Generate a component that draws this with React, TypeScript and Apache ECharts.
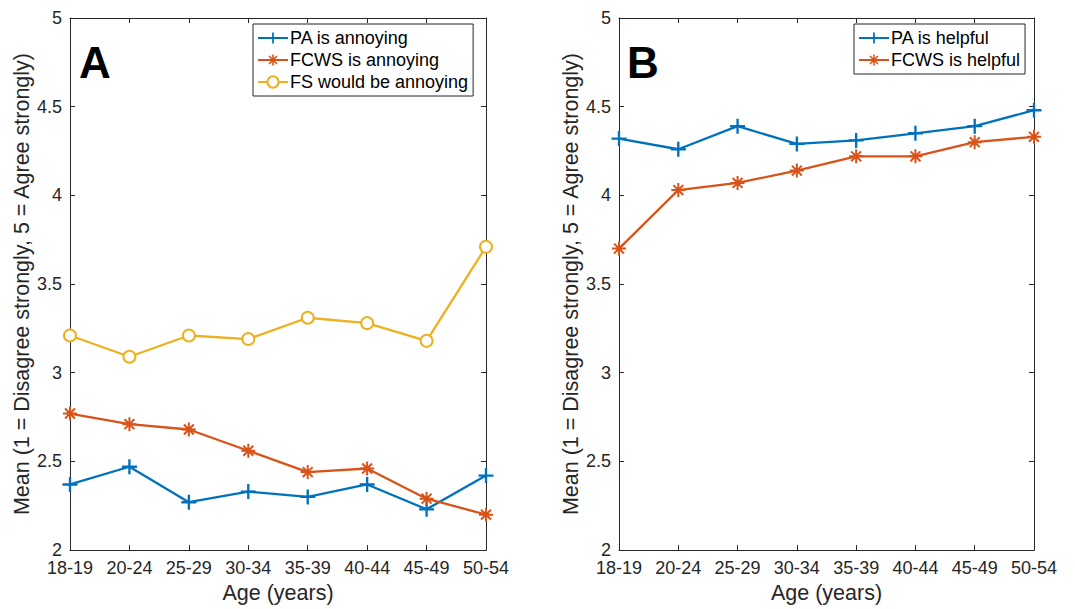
import React, { useEffect, useRef } from "react";
import * as echarts from "echarts";

const ageGroups = ["18-19", "20-24", "25-29", "30-34", "35-39", "40-44", "45-49", "50-54"];
const paAnnoying = [2.37, 2.47, 2.27, 2.33, 2.3, 2.37, 2.23, 2.42];
const fcwsAnnoying = [2.77, 2.71, 2.68, 2.56, 2.44, 2.46, 2.29, 2.2];
const fsWouldBeAnnoying = [3.21, 3.09, 3.21, 3.19, 3.31, 3.28, 3.18, 3.71];
const paHelpful = [4.32, 4.26, 4.39, 4.29, 4.31, 4.35, 4.39, 4.48];
const fcwsHelpful = [3.7, 4.03, 4.07, 4.14, 4.22, 4.22, 4.3, 4.33];
const yMin = 2;
const yMax = 5;
const yStep = 0.5;

const BLUE = "#0072BD";
const ORANGE = "#D95319";
const YELLOW = "#EDB120";
const FONT = "Liberation Sans";
const AXIS = "#262626";

const plusPath =
  "path://M-1.1,-7 L1.1,-7 L1.1,-1.1 L7,-1.1 L7,1.1 L1.1,1.1 L1.1,7 L-1.1,7 L-1.1,1.1 L-7,1.1 L-7,-1.1 L-1.1,-1.1 Z";
const starPath =
  "path://M7,1 L7,-1 L-7,-1 L-7,1 Z M-1,7 L1,7 L1,-7 L-1,-7 Z " +
  "M4.24,5.66 L5.66,4.24 L-4.24,-5.66 L-5.66,-4.24 Z " +
  "M5.66,-4.24 L4.24,-5.66 L-5.66,4.24 L-4.24,5.66 Z";

export default function App() {
  const ref = useRef<HTMLDivElement>(null);
  useEffect(() => {
    if (!ref.current) return;
    const chart = echarts.init(ref.current, undefined, { renderer: "svg" });
    const grids = [
      { left: 70, top: 18, width: 416, height: 534 },
      { left: 619, top: 18, width: 415, height: 534 },
    ];
    const xBottom = (gi: number) => ({
      type: "category",
      gridIndex: gi,
      data: ageGroups,
      boundaryGap: false,
      position: "bottom",
      axisLine: { lineStyle: { color: AXIS, width: 1 } },
      axisTick: { inside: true, length: 5, lineStyle: { color: AXIS } },
      axisLabel: { interval: 0, fontSize: 18, color: AXIS, fontFamily: FONT, margin: 9 },
      name: "Age (years)",
      nameLocation: "middle",
      nameGap: 31,
      nameTextStyle: { fontSize: 21.5, color: AXIS, fontFamily: FONT },
      splitLine: { show: false },
    });
    const xTop = (gi: number) => ({
      type: "category",
      gridIndex: gi,
      data: ageGroups,
      boundaryGap: false,
      position: "top",
      axisLine: { lineStyle: { color: AXIS, width: 1 } },
      axisTick: { inside: true, length: 5, lineStyle: { color: AXIS } },
      axisLabel: { show: false },
      splitLine: { show: false },
    });
    const yLeft = (gi: number) => ({
      type: "value",
      gridIndex: gi,
      min: yMin,
      max: yMax,
      interval: yStep,
      position: "left",
      axisLine: { show: true, lineStyle: { color: AXIS, width: 1 } },
      axisTick: { show: true, inside: true, length: 5, lineStyle: { color: AXIS } },
      axisLabel: { fontSize: 18, color: AXIS, fontFamily: FONT, margin: 8 },
      splitLine: { show: false },
      name: "Mean (1 = Disagree strongly, 5 = Agree strongly)",
      nameLocation: "middle",
      nameGap: 33,
      nameTextStyle: { fontSize: 21.5, color: AXIS, fontFamily: FONT },
    });
    const yRight = (gi: number) => ({
      type: "value",
      gridIndex: gi,
      min: yMin,
      max: yMax,
      interval: yStep,
      position: "right",
      axisLine: { show: true, lineStyle: { color: AXIS, width: 1 } },
      axisTick: { show: true, inside: true, length: 5, lineStyle: { color: AXIS } },
      axisLabel: { show: false },
      splitLine: { show: false },
    });
    const mkSeries = (
      name: string,
      data: number[],
      color: string,
      symbol: string,
      size: number,
      gi: number
    ) => ({
      type: "line",
      name,
      data,
      xAxisIndex: gi * 2,
      yAxisIndex: gi * 2,
      symbol,
      symbolSize: size,
      symbolKeepAspect: true,
      showAllSymbol: true,
      lineStyle: { color, width: 2.3 },
      itemStyle:
        symbol === "emptyCircle"
          ? { color, borderColor: color, borderWidth: 2.2 }
          : { color, borderWidth: 0 },
      emphasis: { disabled: true },
    });
    const legendBase = {
      orient: "vertical",
      top: 24,
      borderColor: AXIS,
      borderWidth: 1,
      backgroundColor: "#fff",
      padding: [5, 5, 5, 4],
      itemWidth: 30,
      itemHeight: 14,
      itemGap: 4,
      textStyle: { fontSize: 18, color: "#000", fontFamily: FONT, padding: [0, 0, 0, -3] },
      selectedMode: false,
    };
    chart.setOption({
      animation: false,
      backgroundColor: "#fff",
      grid: grids,
      xAxis: [xBottom(0), xTop(0), xBottom(1), xTop(1)],
      yAxis: [yLeft(0), yRight(0), yLeft(1), yRight(1)],
      legend: [
        {
          ...legendBase,
          left: 253,
          data: ["PA is annoying", "FCWS is annoying", "FS would be annoying"],
        },
        {
          ...legendBase,
          left: 854,
          data: ["PA is helpful", "FCWS is helpful"],
        },
      ],
      series: [
        mkSeries("PA is annoying", paAnnoying, BLUE, plusPath, 15, 0),
        mkSeries("FCWS is annoying", fcwsAnnoying, ORANGE, starPath, 14, 0),
        mkSeries("FS would be annoying", fsWouldBeAnnoying, YELLOW, "emptyCircle", 12, 0),
        mkSeries("PA is helpful", paHelpful, BLUE, plusPath, 15, 1),
        mkSeries("FCWS is helpful", fcwsHelpful, ORANGE, starPath, 14, 1),
      ],
      graphic: [
        {
          type: "text",
          left: 79,
          top: 40,
          style: { text: "A", font: `bold 44px ${FONT}`, fill: "#000" },
        },
        {
          type: "text",
          left: 627,
          top: 40,
          style: { text: "B", font: `bold 44px ${FONT}`, fill: "#000" },
        },
      ],
    });
    return () => chart.dispose();
  }, []);
  return (
    <div
      ref={ref}
      style={{ position: "absolute", left: 0, top: 0, width: 1075, height: 609 }}
    />
  );
}
